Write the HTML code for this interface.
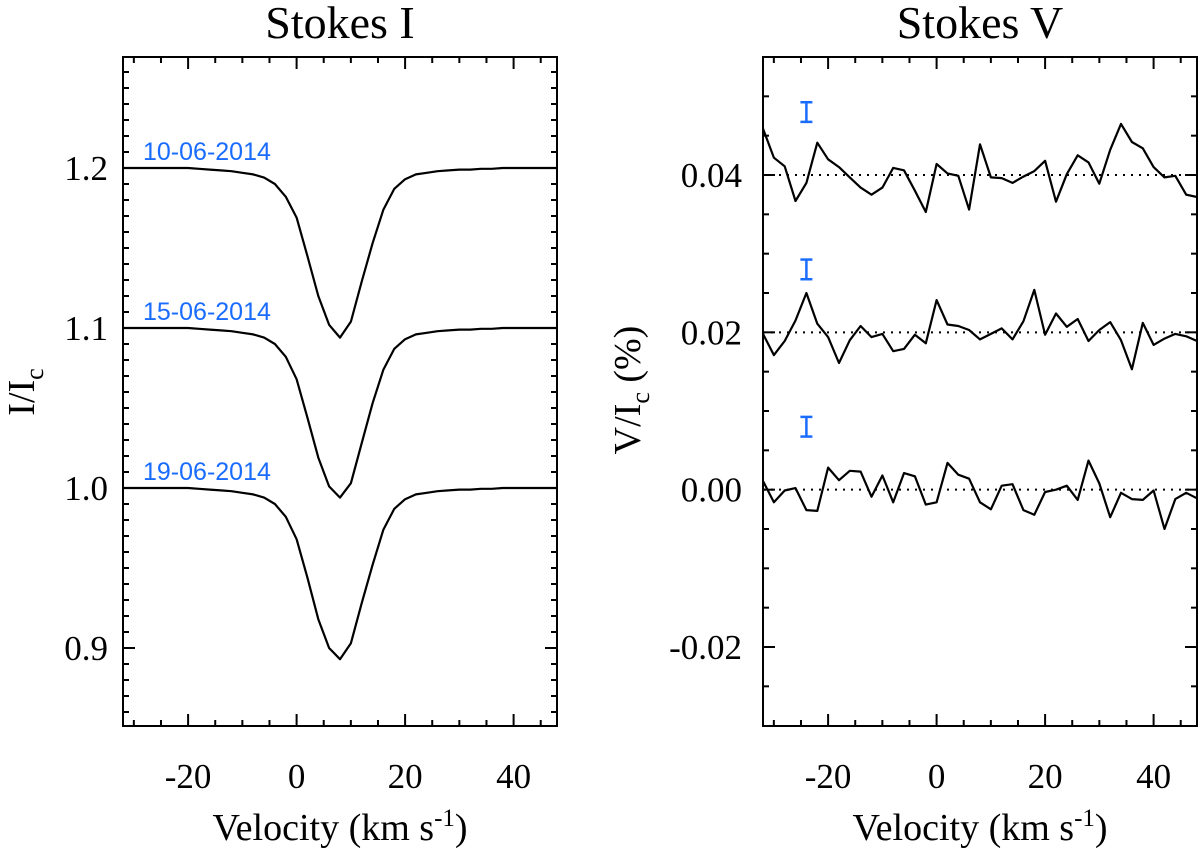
<!DOCTYPE html>
<html><head><meta charset="utf-8"><style>
html,body{margin:0;padding:0;background:#fff;}
svg text{font-family:"Liberation Serif",serif;}
</style></head><body>
<svg id="fig" width="1200" height="848" xmlns="http://www.w3.org/2000/svg"></svg>
<script>
const velocities = []; for (let v = -32; v <= 48; v += 2) velocities.push(v);
const iDepth1 = [0,0,0,0,0,0,0,0.0005,0.001,0.0015,0.002,0.003,0.004,0.006,0.010,0.018,0.031,0.055,0.080,0.098,0.106,0.096,0.071,0.047,0.026,0.013,0.007,0.004,0.003,0.002,0.0015,0.001,0.001,0.0005,0.0005,0,0,0,0,0,0];
const iDepth2 = [0,0,0,0,0,0,0,0.0005,0.001,0.0015,0.002,0.003,0.004,0.006,0.010,0.018,0.032,0.056,0.081,0.099,0.106,0.097,0.072,0.047,0.026,0.013,0.007,0.004,0.003,0.002,0.0015,0.001,0.001,0.0005,0.0005,0,0,0,0,0,0];
const iDepth3 = [0,0,0,0,0,0,0,0.0005,0.001,0.0015,0.002,0.003,0.004,0.006,0.010,0.018,0.032,0.056,0.082,0.100,0.107,0.097,0.072,0.048,0.026,0.013,0.007,0.004,0.003,0.002,0.0015,0.001,0.001,0.0005,0.0005,0,0,0,0,0,0];
const iOffsets = [1.2, 1.1, 1.0];
const dateLabels = ["10-06-2014","15-06-2014","19-06-2014"];
const v1 = [0.0459,0.0422,0.0411,0.0367,0.0390,0.0441,0.0420,0.0410,0.0397,0.0384,0.0375,0.0384,0.0409,0.0406,0.0380,0.0353,0.0414,0.0402,0.0399,0.0356,0.0439,0.0397,0.0396,0.0390,0.0398,0.0405,0.0418,0.0366,0.0401,0.0425,0.0416,0.0389,0.0432,0.0465,0.0442,0.0434,0.0410,0.0397,0.0399,0.0375,0.0372];
const v2 = [0.0198,0.0171,0.0189,0.0215,0.0250,0.0211,0.0194,0.0161,0.0190,0.0208,0.0194,0.0198,0.0176,0.0179,0.0197,0.0186,0.0241,0.0210,0.0208,0.0203,0.0191,0.0198,0.0205,0.0191,0.0214,0.0254,0.0197,0.0224,0.0207,0.0217,0.0189,0.0203,0.0213,0.0190,0.0153,0.0212,0.0184,0.0192,0.0198,0.0195,0.0189];
const v3 = [0.0011,-0.0016,-0.0001,0.0002,-0.0026,-0.0027,0.0028,0.0012,0.0024,0.0023,-0.0009,0.0018,-0.0016,0.0021,0.0017,-0.0019,-0.0016,0.0034,0.0019,0.0014,-0.0016,-0.0025,0.0005,0.0007,-0.0026,-0.0032,-0.0003,0.0000,0.0005,-0.0013,0.0037,0.0008,-0.0035,-0.0004,-0.0012,-0.0013,-0.0001,-0.0050,-0.0012,-0.0004,-0.0011];
const vZero = [0.04, 0.02, 0.0];
const errCenters = [0.048, 0.028, 0.008];
const errHalf = 0.00125;
const errVel = -24;
const xTicks = [-20,0,20,40];
const iTicks = [0.9,1.0,1.1,1.2];
const vTicks = [-0.02,0.0,0.02,0.04];

const NS="http://www.w3.org/2000/svg";
const svg=document.getElementById('fig');
function mk(tag,attrs,parent){const e=document.createElementNS(NS,tag);for(const k in attrs)e.setAttribute(k,attrs[k]);(parent||svg).appendChild(e);return e;}
function lin(d0,d1,r0,r1){return v=>r0+(v-d0)*(r1-r0)/(d1-d0);}

const TOP=57,BOT=726;
const L={x0:123,x1:557}, R={x0:763,x1:1197};
const xL=lin(-32,48,L.x0,L.x1), xR=lin(-32,48,R.x0,R.x1);
const yL=lin(1.2,0.9,168,648);
const yR=lin(0.04,-0.02,175,647);

function frame(P,xs,ys,yMinMin,yMinMax,yMinStep,ymaj,name){
  const g=mk('g',{});
  
  
  mk('rect',{x:P.x0,y:TOP,width:P.x1-P.x0,height:BOT-TOP,fill:'none',stroke:'#000','stroke-width':2},g);
  for(let v=-30;v<=45;v+=5){const x=xs(v);const len=(v%20===0)?12:6;
    mk('line',{x1:x,y1:BOT,x2:x,y2:BOT-len,stroke:'#000','stroke-width':2},g);
    mk('line',{x1:x,y1:TOP,x2:x,y2:TOP+len,stroke:'#000','stroke-width':2},g);}
  const n=Math.round((yMinMax-yMinMin)/yMinStep);
  for(let i=0;i<=n;i++){const v=yMinMin+i*yMinStep;const y=ys(v);if(y<TOP+2||y>BOT-2)continue;
    const maj=ymaj.some(t=>Math.abs(t-v)<1e-6);const len=maj?12:6;
    mk('line',{x1:P.x0,y1:y,x2:P.x0+len,y2:y,stroke:'#000','stroke-width':2},g);
    mk('line',{x1:P.x1,y1:y,x2:P.x1-len,y2:y,stroke:'#000','stroke-width':2},g);}
  xTicks.forEach(t=>{const tx=mk('text',{x:xs(t),y:788,'font-size':35,'text-anchor':'middle'},g);tx.textContent=t;});
  const xl=mk('text',{x:(P.x0+P.x1)/2,y:840,'font-size':38,'text-anchor':'middle'},g);
  
  
  xl.innerHTML='Velocity (km s<tspan dy="-14" font-size="25">-1</tspan><tspan dy="14">)</tspan>';
}
frame(L,xL,yL,0.86,1.27,0.01,iTicks,'stokes-i');
frame(R,xR,yR,-0.03,0.055,0.005,vTicks,'stokes-v');

iTicks.forEach(t=>{const tx=mk('text',{x:108,y:yL(t)+12,'font-size':35,'text-anchor':'end'});tx.textContent=t.toFixed(1);});
vTicks.forEach(t=>{const tx=mk('text',{x:742,y:yR(t)+12,'font-size':35,'text-anchor':'end'});tx.textContent=t.toFixed(2);});

let t1=mk('text',{x:340,y:38,'font-size':46,'text-anchor':'middle'});t1.textContent='Stokes I';

let t2=mk('text',{x:980,y:38,'font-size':46,'text-anchor':'middle'});t2.textContent='Stokes V';


let yl=mk('text',{x:0,y:0,'font-size':38,'text-anchor':'middle',transform:'translate(34,392) rotate(-90)'});

yl.innerHTML='I/I<tspan dy="9" font-size="26">c</tspan>';
let yl2=mk('text',{x:0,y:0,'font-size':38,'text-anchor':'middle',transform:'translate(640,390) rotate(-90)'});

yl2.innerHTML='V/I<tspan dy="9" font-size="26">c</tspan><tspan dy="-9"> (%)</tspan>';

// Stokes I
[iDepth1,iDepth2,iDepth3].forEach((d,k)=>{
  const pts=velocities.map((v,i)=>xL(v).toFixed(1)+','+yL(iOffsets[k]-d[i]).toFixed(1)).join(' ');
  const pl=mk('polyline',{points:pts,fill:'none',stroke:'#000','stroke-width':2.2,'stroke-linejoin':'round'});
  
  
  const tx=mk('text',{x:143,y:yL(iOffsets[k])-8,'font-size':25,fill:'#1a6cff',style:'font-family:"Liberation Sans",sans-serif'});
  tx.textContent=dateLabels[k];
  
  
});

// Stokes V
[v1,v2,v3].forEach((d,k)=>{
  const z=mk('line',{x1:R.x0,x2:R.x1,y1:yR(vZero[k]),y2:yR(vZero[k]),stroke:'#000','stroke-width':2,'stroke-dasharray':'2 6'});
  
  
  const pts=velocities.map((v,i)=>xR(v).toFixed(1)+','+yR(d[i]).toFixed(1)).join(' ');
  const pl=mk('polyline',{points:pts,fill:'none',stroke:'#000','stroke-width':2.2,'stroke-linejoin':'round'});
  
  
  const ex=xR(errVel),ya=yR(errCenters[k]+errHalf),yb=yR(errCenters[k]-errHalf);
  const eg=mk('g',{stroke:'#1a6cff','stroke-width':2.5});
  
  
  mk('line',{x1:ex,x2:ex,y1:ya,y2:yb},eg);
  mk('line',{x1:ex-6,x2:ex+6,y1:ya,y2:ya},eg);
  mk('line',{x1:ex-6,x2:ex+6,y1:yb,y2:yb},eg);
});
</script>
</body></html>
